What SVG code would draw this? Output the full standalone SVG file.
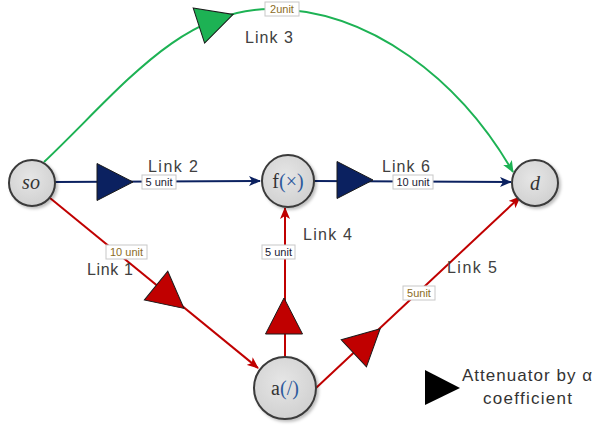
<svg xmlns="http://www.w3.org/2000/svg" width="598" height="429" viewBox="0 0 598 429">
<style>
.node circle{fill:url(#ng);stroke:#3a3a3a;stroke-width:2;filter:url(#sh)}
.nl{font-family:"Liberation Serif",serif;font-size:20px;fill:#333;text-anchor:middle}
.it{font-style:italic}
.bl{fill:#2e5a9c}
.lk{font-family:"Liberation Sans",Arial,sans-serif;font-size:16px;fill:#404040}
.ub{fill:#fff;stroke:#c8c8c8;stroke-width:1}
.ut{font-family:"Liberation Sans",Arial,sans-serif;font-size:11px;text-anchor:middle}
.ug{fill:#8c6d1f}
.ud{fill:#1a1a33}
.cb{fill:none;stroke:#0b2160;stroke-width:2}
.cr{fill:none;stroke:#c00000;stroke-width:2}
.cg{fill:none;stroke:#1db254;stroke-width:2}
.tri{stroke:#1a1a1a;stroke-width:1}
.lg{font-family:"Liberation Sans",Arial,sans-serif;font-size:17px;fill:#333}
</style>
<defs>
<radialGradient id="ng" cx="0.45" cy="0.4" r="0.65">
<stop offset="0" stop-color="#e6e6e6"/>
<stop offset="1" stop-color="#cfcfcf"/>
</radialGradient>
<filter id="sh" x="-30%" y="-30%" width="170%" height="170%">
<feDropShadow dx="2" dy="2" stdDeviation="1.5" flood-color="#000" flood-opacity="0.25"/>
</filter>
<marker id="ab" markerWidth="12" markerHeight="10" refX="11" refY="5" orient="auto" markerUnits="userSpaceOnUse"><path d="M0,0 L12,5 L0,10 L3,5 Z" fill="#0b2160"/></marker>
<marker id="ar" markerWidth="12" markerHeight="10" refX="11" refY="5" orient="auto" markerUnits="userSpaceOnUse"><path d="M0,0 L12,5 L0,10 L3,5 Z" fill="#c00000"/></marker>
<marker id="ag" markerWidth="12" markerHeight="10" refX="11" refY="5" orient="auto" markerUnits="userSpaceOnUse"><path d="M0,0 L12,5 L0,10 L3,5 Z" fill="#1db254"/></marker>
<path id="t" d="M-18,-18.5 L18,0 L-18,18.5 Z"/>
</defs>
<rect width="598" height="429" fill="#fff"/>
<g id="connectors">
<path class="cg" d="M44,162 C120,90 180,9 270,9 C370,9 460,80 513,172" marker-end="url(#ag)"/>
<line class="cb" x1="55" y1="182" x2="260" y2="181" marker-end="url(#ab)"/>
<line class="cb" x1="314" y1="181" x2="511" y2="182" marker-end="url(#ab)"/>
<line class="cr" x1="50" y1="198" x2="258" y2="368" marker-end="url(#ar)"/>
<line class="cr" x1="285" y1="357" x2="285" y2="208" marker-end="url(#ar)"/>
<line class="cr" x1="316" y1="388" x2="520" y2="197" marker-end="url(#ar)"/>
<use href="#t" class="tri" fill="#1db254" transform="translate(216,20) rotate(-18)"/>
<use href="#t" class="tri" fill="#0b2160" transform="translate(115,182)"/>
<use href="#t" class="tri" fill="#0b2160" transform="translate(355,180)"/>
<use href="#t" class="tri" fill="#c00000" transform="translate(170,297) rotate(39.3)"/>
<use href="#t" class="tri" fill="#c00000" transform="translate(284,316) rotate(-90)"/>
<use href="#t" class="tri" fill="#c00000" transform="translate(367,341) rotate(-43)"/>
<rect class="ub" x="265" y="2" width="34" height="14"/>
<text class="ut ug" x="282" y="13">2unit</text>
<rect class="ub" x="142" y="175" width="34" height="14"/>
<text class="ut ud" x="159" y="186">5 unit</text>
<rect class="ub" x="393" y="175" width="40" height="14"/>
<text class="ut ud" x="413" y="186">10 unit</text>
<rect class="ub" x="262" y="245" width="33" height="14"/>
<text class="ut ud" x="278.5" y="256">5 unit</text>
<rect class="ub" x="106" y="245" width="41" height="14"/>
<text class="ut ug" x="126.5" y="256">10 unit</text>
<rect class="ub" x="403" y="286" width="32" height="14"/>
<text class="ut ug" x="419" y="297">5unit</text>
<text class="lk" x="245" y="43" textLength="48">Link 3</text>
<text class="lk" x="148" y="172" textLength="50">Link 2</text>
<text class="lk" x="382" y="172" textLength="48">Link 6</text>
<text class="lk" x="303" y="240" textLength="49">Link 4</text>
<text class="lk" x="87" y="275" textLength="46">Link 1</text>
<text class="lk" x="447" y="273" textLength="50">Link 5</text>
</g>
<g id="node-so" class="node">
<circle cx="32" cy="183" r="23"/>
<text class="nl it" x="31" y="189" font-size="19" fill="#2f3b55">so</text>
</g>
<g id="node-f" class="node">
<circle cx="288" cy="181" r="26"/>
<text class="nl" x="288" y="188">f<tspan class="bl">(×)</tspan></text>
</g>
<g id="node-d" class="node">
<circle cx="535" cy="183" r="23"/>
<text class="nl it" x="535" y="190" fill="#2a3d66">d</text>
</g>
<g id="node-a" class="node">
<circle cx="285" cy="388" r="31"/>
<text class="nl" x="285" y="395">a<tspan class="bl">(/)</tspan></text>
</g>
<g id="legend">
<path d="M425,370 L460,388 L425,405 Z" fill="#000"/>
<text class="lg" x="462" y="381" textLength="130">Attenuator by α</text>
<text class="lg" x="483" y="404" textLength="89">coefficient</text>
</g>
</svg>
